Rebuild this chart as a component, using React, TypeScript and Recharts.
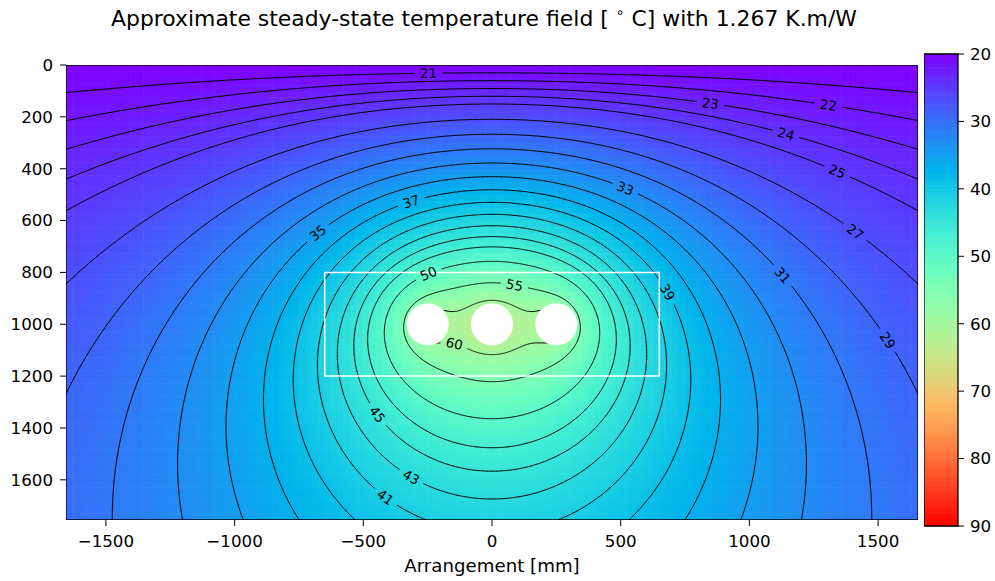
import React from 'react'
import { ScatterChart, Scatter, XAxis, YAxis } from 'recharts'

const FONT = '"DejaVu Sans", Verdana, sans-serif'

const cableX = [-250, 0, 250]
const cableDepth = [1000, 1000, 1000]
const cableRadius = 82
const ambientTemp = 20
const kelvinPerNeper = 5.73 // q * rho / (2 pi) with rho = 1.267 K.m/W

const contourLevels = [21, 22, 23, 24, 25, 27, 29, 31, 33, 35, 37, 39, 41, 43, 45, 47, 50, 55, 60]

// inline contour labels (approximate spot on each line, mm)
const labelLevels = [21, 22, 23, 24, 25, 27, 29, 31, 33, 35, 37, 39, 41, 43, 45, 50, 55, 60]
const labelX = [-249, 1325, 858, 1158, 1360, 1434, 1566, 1147, 529, -688, -323, 700, -420, -315, -447, -253, 93, -152]
const labelY = [23, 143, 138, 255, 402, 638, 1063, 808, 464, 642, 514, 873, 1677, 1592, 1349, 800, 839, 1078]

const xTicks = [-1500, -1000, -500, 0, 500, 1000, 1500]
const yTicks = [0, 200, 400, 600, 800, 1000, 1200, 1400, 1600]
const cbarTicks = [20, 30, 40, 50, 60, 70, 80, 90]

const boxX = [-650, 650]
const boxY = [800, 1200]

const xDomain = [-1655, 1655]
const yDomain = [0, 1755]
const cbarDomain = [20, 90]

// layout
const W = 995
const H = 581
const MARGIN = { top: 65, right: 77, bottom: 6, left: 0 }
const Y_AXIS_W = 66
const X_AXIS_H = 55
const PLOT_W = W - MARGIN.left - MARGIN.right - Y_AXIS_W
const PLOT_H = H - MARGIN.top - MARGIN.bottom - X_AXIS_H
const SX = PLOT_W / (xDomain[1] - xDomain[0])
const SY = PLOT_H / (yDomain[1] - yDomain[0])
const GRID_NX = 132
const GRID_NY = 70
const LABEL_GAP = 54 // mm cut out of a line around its label

const CB_LEFT = 924
const CB_W = 34
const CB_MARGIN = { top: 54, right: 0, bottom: 55, left: 0 }
const CB_H = H - CB_MARGIN.top - CB_MARGIN.bottom
const CB_STEPS = 140

type Pt = { x: number; y: number }

function temperature(x: number, y: number) {
  let s = 0
  for (let i = 0; i < cableX.length; i++) {
    const dx = x - cableX[i]
    const a = y - cableDepth[i]
    const b = y + cableDepth[i]
    s += 0.5 * Math.log((dx * dx + b * b) / (dx * dx + a * a))
  }
  return ambientTemp + kelvinPerNeper * s
}

// matplotlib "rainbow"
function rainbow(t: number) {
  const v = Math.min(1, Math.max(0, (t - cbarDomain[0]) / (cbarDomain[1] - cbarDomain[0])))
  const c = (n: number) => Math.round(255 * Math.min(1, Math.max(0, n)))
  return `rgb(${c(Math.abs(2 * v - 0.5))},${c(Math.sin(Math.PI * v))},${c(Math.cos((Math.PI * v) / 2))})`
}

// heat map cells
const cells: { x: number; y: number; fill: string }[] = []
for (let j = 0; j < GRID_NY; j++) {
  for (let i = 0; i < GRID_NX; i++) {
    const x = xDomain[0] + ((i + 0.5) * (xDomain[1] - xDomain[0])) / GRID_NX
    const y = yDomain[0] + ((j + 0.5) * (yDomain[1] - yDomain[0])) / GRID_NY
    cells.push({ x, y, fill: rainbow(temperature(x, y)) })
  }
}

// contours traced along rays from the middle of the cable group
const PX = cableX.reduce((a, b) => a + b, 0) / cableX.length
const PY = cableDepth.reduce((a, b) => a + b, 0) / cableDepth.length
const N_ANG = 720
const STEP = (2 * Math.PI) / N_ANG
const thetas = Array.from({ length: N_ANG }, (_, j) => -Math.PI + j * STEP)
const RADII = Array.from({ length: 420 }, (_, i) => 30 * Math.pow(500, i / 419))

function radiusAt(level: number, th: number) {
  const c = Math.cos(th)
  const s = Math.sin(th)
  const T = (r: number) => temperature(PX + r * c, PY + r * s)
  let hi = -1
  for (let i = RADII.length - 1; i >= 0; i--) {
    if (T(RADII[i]) >= level) { hi = i; break }
  }
  if (hi < 0) return RADII[0]
  if (hi === RADII.length - 1) return RADII[hi]
  let a = RADII[hi]
  let b = RADII[hi + 1]
  for (let k = 0; k < 22; k++) {
    const m = (a + b) / 2
    if (T(m) >= level) a = m
    else b = m
  }
  return (a + b) / 2
}

function pointAt(level: number, th: number): Pt {
  const r = radiusAt(level, th)
  return { x: PX + r * Math.cos(th), y: PY + r * Math.sin(th) }
}

const labelPoints = labelLevels.map((lv, i) => {
  const th = Math.atan2(labelY[i] - PY, labelX[i] - PX)
  const p = pointAt(lv, th)
  const p1 = pointAt(lv, th - 0.01)
  const p2 = pointAt(lv, th + 0.01)
  let ang = (Math.atan2((p2.y - p1.y) * SY, (p2.x - p1.x) * SX) * 180) / Math.PI
  if (ang > 90) ang -= 180
  if (ang <= -90) ang += 180
  return { x: p.x, y: p.y, text: String(lv), angle: ang }
})

function traceLevel(level: number): Pt[][] {
  const pts = thetas.map((th) => pointAt(level, th))
  const li = labelLevels.indexOf(level)
  if (li < 0) return [[...pts, pts[0]]]
  const L = labelPoints[li]
  const far = (p: Pt) => Math.hypot(p.x - L.x, p.y - L.y) > LABEL_GAP
  const keep = pts.map(far)
  const s = keep.indexOf(false)
  if (s < 0) return [[...pts, pts[0]]]
  const edge = (ta: number, tb: number) => {
    let a = ta
    let b = tb
    const fa = far(pointAt(level, a))
    for (let k = 0; k < 16; k++) {
      const m = (a + b) / 2
      if (far(pointAt(level, m)) === fa) a = m
      else b = m
    }
    return pointAt(level, (a + b) / 2)
  }
  const runs: Pt[][] = []
  let cur: Pt[] | null = null
  for (let k = 1; k <= N_ANG; k++) {
    const j = (s + k) % N_ANG
    const jp = (s + k - 1) % N_ANG
    const ta = thetas[jp]
    const tb = thetas[jp] + STEP
    if (keep[j]) {
      if (!cur) cur = [edge(ta, tb)]
      cur.push(pts[j])
    } else if (cur) {
      cur.push(edge(ta, tb))
      runs.push(cur)
      cur = null
    }
  }
  return runs
}

// keep the lines inside the axes box
function clipSeg(a: Pt, b: Pt) {
  let t0 = 0
  let t1 = 1
  const dx = b.x - a.x
  const dy = b.y - a.y
  const P = [-dx, dx, -dy, dy]
  const Q = [a.x - xDomain[0], xDomain[1] - a.x, a.y - yDomain[0], yDomain[1] - a.y]
  for (let k = 0; k < 4; k++) {
    if (P[k] === 0) {
      if (Q[k] < 0) return null
    } else {
      const t = Q[k] / P[k]
      if (P[k] < 0) {
        if (t > t1) return null
        if (t > t0) t0 = t
      } else {
        if (t < t0) return null
        if (t < t1) t1 = t
      }
    }
  }
  return { t0, t1, p: { x: a.x + t0 * dx, y: a.y + t0 * dy }, q: { x: a.x + t1 * dx, y: a.y + t1 * dy } }
}

function clipPolyline(pts: Pt[]) {
  const out: Pt[][] = []
  let cur: Pt[] = []
  for (let i = 0; i < pts.length - 1; i++) {
    const c = clipSeg(pts[i], pts[i + 1])
    if (!c) {
      if (cur.length) out.push(cur)
      cur = []
      continue
    }
    if (!cur.length || c.t0 > 0) {
      if (cur.length) out.push(cur)
      cur = [c.p]
    }
    cur.push(c.q)
    if (c.t1 < 1) {
      out.push(cur)
      cur = []
    }
  }
  if (cur.length) out.push(cur)
  return out.filter((p) => p.length >= 2)
}

const contourPieces = contourLevels.flatMap((lv) => traceLevel(lv).flatMap(clipPolyline))

const cables = cableX.map((x, i) => ({ x, y: cableDepth[i] }))
const boxPath = [
  { x: boxX[0], y: boxY[0] },
  { x: boxX[1], y: boxY[0] },
  { x: boxX[1], y: boxY[1] },
  { x: boxX[0], y: boxY[1] },
  { x: boxX[0], y: boxY[0] },
]
const framePath = [
  { x: xDomain[0], y: yDomain[0] },
  { x: xDomain[1], y: yDomain[0] },
  { x: xDomain[1], y: yDomain[1] },
  { x: xDomain[0], y: yDomain[1] },
  { x: xDomain[0], y: yDomain[0] },
]

// colour bar
const cbarCells = Array.from({ length: CB_STEPS }, (_, i) => {
  const t = cbarDomain[0] + ((i + 0.5) * (cbarDomain[1] - cbarDomain[0])) / CB_STEPS
  return { x: 0.5, y: t, fill: rainbow(t) }
})
const cbarFrame = [
  { x: 0, y: cbarDomain[0] },
  { x: 1, y: cbarDomain[0] },
  { x: 1, y: cbarDomain[1] },
  { x: 0, y: cbarDomain[1] },
  { x: 0, y: cbarDomain[0] },
]

const minus = (v: number) => (v < 0 ? '\u2212' + Math.abs(v) : String(v))
const tickStyle = { fill: '#000', fontSize: 16.7, fontFamily: FONT }
const noDot = () => <g />

const CW = PLOT_W / GRID_NX + 0.6
const CH = PLOT_H / GRID_NY + 0.6
const CBH = CB_H / CB_STEPS + 0.6

const CellShape = (p: any) => (
  <rect x={p.cx - CW / 2} y={p.cy - CH / 2} width={CW} height={CH} fill={p.payload.fill} />
)
const CbarShape = (p: any) => (
  <rect x={p.cx - CB_W / 2} y={p.cy - CBH / 2} width={CB_W} height={CBH} fill={p.payload.fill} />
)
const CableShape = (p: any) => <circle cx={p.cx} cy={p.cy} r={cableRadius * SX} fill="#fff" />
const LabelShape = (p: any) => (
  <text
    x={p.cx}
    y={p.cy}
    dy="0.36em"
    transform={`rotate(${p.payload.angle} ${p.cx} ${p.cy})`}
    textAnchor="middle"
    fontSize={13.3}
    fontFamily={FONT}
    fill="#000"
  >
    {p.payload.text}
  </text>
)

export default function App() {
  return (
    <div style={{ position: 'absolute', left: 0, top: 0, width: W, height: H, background: '#fff' }}>
      <div
        style={{
          position: 'absolute',
          left: 0,
          top: 6,
          width: 968,
          textAlign: 'center',
          fontFamily: FONT,
          fontSize: 21.9,
          lineHeight: '26px',
          color: '#000',
          whiteSpace: 'nowrap',
        }}
      >
        Approximate steady-state temperature field [ <span style={{ fontSize: 14, position: 'relative', top: -9 }}>∘</span> C] with 1.267 K.m/W
      </div>

      <div style={{ position: 'absolute', left: 0, top: 0 }}>
        <ScatterChart width={W} height={H} margin={MARGIN}>
          <XAxis
            type="number"
            dataKey="x"
            domain={xDomain}
            ticks={xTicks}
            interval={0}
            allowDataOverflow
            height={X_AXIS_H}
            axisLine={false}
            tickSize={6}
            tickMargin={9}
            stroke="#000"
            tick={tickStyle}
            tickFormatter={minus}
            label={{ value: 'Arrangement [mm]', position: 'insideBottom', offset: 3, fill: '#000', fontSize: 18.2, fontFamily: FONT }}
          />
          <YAxis
            type="number"
            dataKey="y"
            domain={yDomain}
            ticks={yTicks}
            interval={0}
            reversed
            allowDataOverflow
            width={Y_AXIS_W}
            axisLine={false}
            tickSize={6}
            tickMargin={7}
            stroke="#000"
            tick={tickStyle}
          />
          <Scatter data={cells} shape={CellShape} isAnimationActive={false} />
          {contourPieces.map((piece, i) => (
            <Scatter
              key={'c' + i}
              data={piece}
              shape={noDot}
              line={{ stroke: '#000', strokeWidth: 1 }}
              isAnimationActive={false}
            />
          ))}
          <Scatter data={boxPath} shape={noDot} line={{ stroke: '#fff', strokeWidth: 1.5 }} isAnimationActive={false} />
          <Scatter data={cables} shape={CableShape} isAnimationActive={false} />
          <Scatter data={labelPoints} shape={LabelShape} isAnimationActive={false} />
          <Scatter data={framePath} shape={noDot} line={{ stroke: '#000', strokeWidth: 1.3 }} isAnimationActive={false} />
        </ScatterChart>
      </div>

      <div style={{ position: 'absolute', left: CB_LEFT, top: 0 }}>
        <ScatterChart width={CB_W + 37} height={H} margin={CB_MARGIN}>
          <XAxis type="number" dataKey="x" domain={[0, 1]} hide />
          <YAxis
            type="number"
            dataKey="y"
            domain={cbarDomain}
            ticks={cbarTicks}
            interval={0}
            reversed
            orientation="right"
            width={37}
            axisLine={false}
            tickSize={6}
            tickMargin={6}
            stroke="#000"
            tick={tickStyle}
          />
          <Scatter data={cbarCells} shape={CbarShape} isAnimationActive={false} />
          <Scatter data={cbarFrame} shape={noDot} line={{ stroke: '#000', strokeWidth: 1.3 }} isAnimationActive={false} />
        </ScatterChart>
      </div>
    </div>
  )
}
